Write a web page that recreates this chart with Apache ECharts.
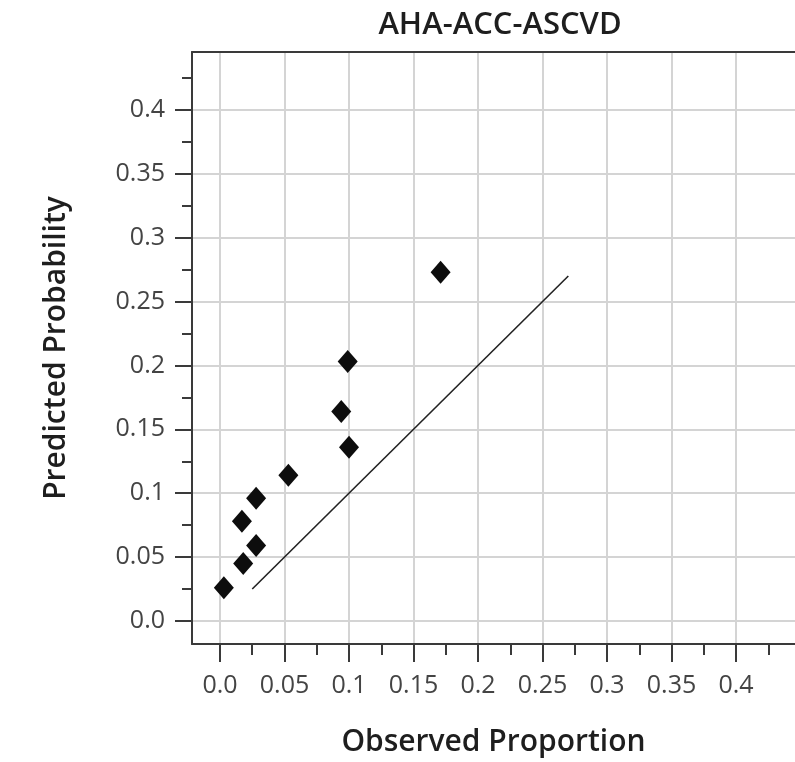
<!DOCTYPE html>
<html>
<head>
<meta charset="utf-8">
<script src="https://cdn.jsdelivr.net/npm/echarts@6/dist/echarts.min.js"></script>
<style>
html,body{margin:0;padding:0;background:#fff;}
#c{width:795px;height:762px;}
</style>
</head>
<body>
<div id="c"></div>
<script>
// ---- data ----
var chartTitle = 'AHA-ACC-ASCVD';
var xName = 'Observed Proportion';
var yName = 'Predicted Probability';
var observed  = [0.003, 0.018, 0.028, 0.017, 0.028, 0.053, 0.094, 0.100, 0.099, 0.171];
var predicted = [0.026, 0.045, 0.059, 0.078, 0.096, 0.114, 0.164, 0.136, 0.203, 0.273];
var refLineX = [0.025, 0.27];
var refLineY = [0.025, 0.27];
var majorTicks = [0, 0.05, 0.1, 0.15, 0.2, 0.25, 0.3, 0.35, 0.4];
var minorTicks = [0.025, 0.075, 0.125, 0.175, 0.225, 0.275, 0.325, 0.375, 0.425];
var tickLabels = ['0.0', '0.05', '0.1', '0.15', '0.2', '0.25', '0.3', '0.35', '0.4'];

var xMin = -0.0217, xMax = 0.4457;
var yMin = -0.018, yMax = 0.4453;

var labelFont = 'Open Sans';
function fmt(v){
  for (var i = 0; i < majorTicks.length; i++) {
    if (Math.abs(majorTicks[i] - v) < 1e-9) return tickLabels[i];
  }
  return '';
}
var axisColor = '#3a3a3a';

var chart = echarts.init(document.getElementById('c'));
var option = {
  backgroundColor: '#fff',
  animation: false,
  title: {
    text: chartTitle, left: 495, top: 5, textAlign: 'center',
    textStyle: {fontFamily: labelFont, fontSize: 31, fontWeight: 600, color: '#1e1e1e'}
  },
  grid: {left: 192, top: 52, right: 0, bottom: 117},
  xAxis: [
    {
      type: 'value', min: xMin, max: xMax, position: 'bottom',
      name: xName, nameLocation: 'middle', nameGap: 83,
      nameTextStyle: {fontFamily: labelFont, fontSize: 30, fontWeight: 600, color: '#1e1e1e'},
      axisLine: {show: true, onZero: false, lineStyle: {color: axisColor, width: 2}},
      axisTick: {show: true, customValues: majorTicks, length: 18, lineStyle: {color: axisColor, width: 2}},
      axisLabel: {customValues: majorTicks, formatter: fmt, margin: 29, fontFamily: labelFont, fontSize: 25, color: '#444'},
      splitLine: {show: true, lineStyle: {color: '#d4d4d4', width: 2}}
    },
    {
      type: 'value', min: xMin, max: xMax, position: 'bottom',
      axisLine: {show: false, onZero: false},
      axisTick: {show: true, customValues: minorTicks, length: 11, lineStyle: {color: axisColor, width: 2}},
      axisLabel: {show: false},
      splitLine: {show: false}
    },
    {
      type: 'value', min: xMin, max: xMax, position: 'top',
      axisLine: {show: true, onZero: false, lineStyle: {color: axisColor, width: 2}},
      axisTick: {show: false}, axisLabel: {show: false}, splitLine: {show: false}
    }
  ],
  yAxis: [
    {
      type: 'value', min: yMin, max: yMax, position: 'left',
      name: yName, nameLocation: 'middle', nameGap: 121, nameRotate: 90,
      nameTextStyle: {fontFamily: labelFont, fontSize: 30, fontWeight: 600, color: '#1e1e1e'},
      axisLine: {show: true, onZero: false, lineStyle: {color: axisColor, width: 2}},
      axisTick: {show: true, customValues: majorTicks, length: 17, lineStyle: {color: axisColor, width: 2}},
      axisLabel: {customValues: majorTicks, formatter: fmt, margin: 27, fontFamily: labelFont, fontSize: 25, color: '#444'},
      splitLine: {show: true, lineStyle: {color: '#d4d4d4', width: 2}}
    },
    {
      type: 'value', min: yMin, max: yMax, position: 'left',
      axisLine: {show: false, onZero: false},
      axisTick: {show: true, customValues: minorTicks, length: 10, lineStyle: {color: axisColor, width: 2}},
      axisLabel: {show: false},
      splitLine: {show: false}
    }
  ],
  series: [
    {
      type: 'line', xAxisIndex: 0, yAxisIndex: 0,
      data: refLineX.map(function(x, i){ return [x, refLineY[i]]; }),
      showSymbol: false, symbol: 'none',
      lineStyle: {color: '#222', width: 1.6}
    },
    {
      type: 'scatter', xAxisIndex: 0, yAxisIndex: 0,
      data: observed.map(function(x, i){ return [x, predicted[i]]; }),
      symbol: 'diamond', symbolSize: [20, 23],
      itemStyle: {color: '#0d0d0d', opacity: 1}
    }
  ]
};
chart.setOption(option);
</script>
</body>
</html>
